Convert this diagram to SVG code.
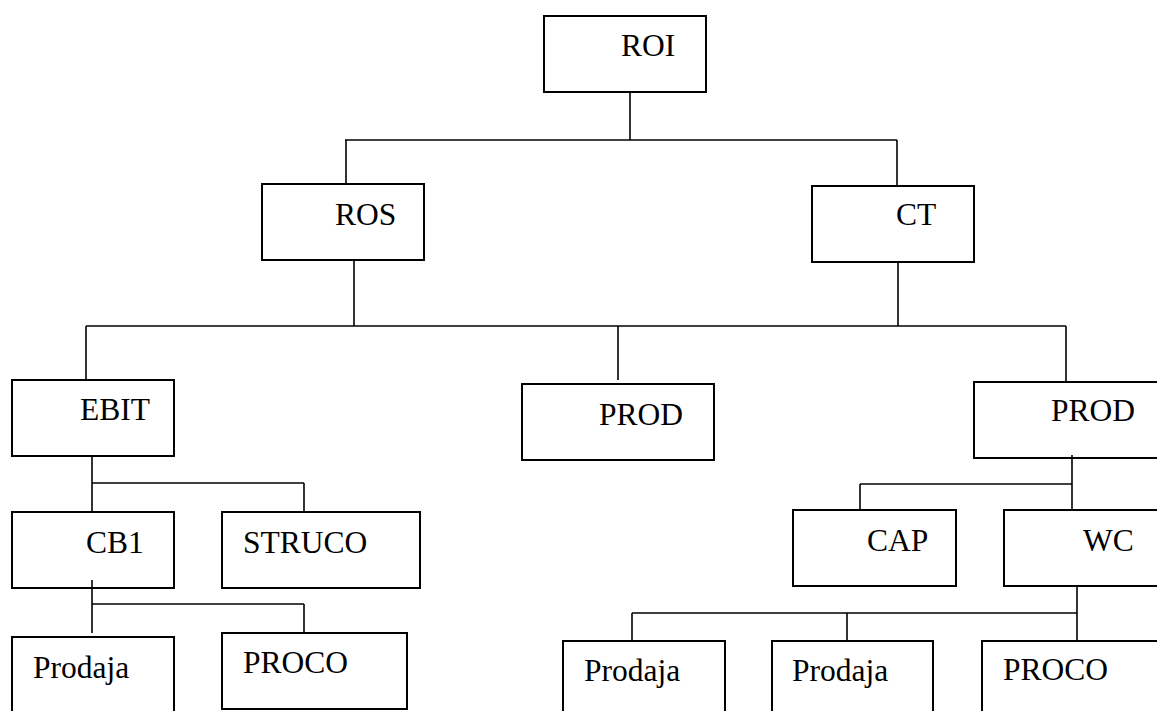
<svg xmlns="http://www.w3.org/2000/svg" width="1157" height="711" viewBox="0 0 1157 711">
<style>
.box{fill:#fff;stroke:#000;stroke-width:2}
.lbl{font-family:"Liberation Serif","Times New Roman",serif;font-size:31.5px;fill:#000}
.conn line{stroke:#000;stroke-width:1.6}
</style>
<rect width="1157" height="711" fill="#fff"/>
<g id="roi"><rect class="box" x="544" y="16" width="162" height="76"/><text class="lbl" x="621" y="56">ROI</text></g>
<g id="ros"><rect class="box" x="262" y="184" width="162" height="76"/><text class="lbl" x="335" y="225">ROS</text></g>
<g id="ct"><rect class="box" x="812" y="186" width="162" height="76"/><text class="lbl" x="896" y="225">CT</text></g>
<g id="ebit"><rect class="box" x="12" y="380" width="162" height="76"/><text class="lbl" x="80" y="420">EBIT</text></g>
<g id="prod-mid"><rect class="box" x="522" y="384" width="192" height="76"/><text class="lbl" x="599" y="425">PROD</text></g>
<g id="prod-right"><rect class="box" x="974" y="382" width="200" height="76"/><text class="lbl" x="1051" y="421">PROD</text></g>
<g id="cb1"><rect class="box" x="12" y="512" width="162" height="76"/><text class="lbl" x="86" y="553">CB1</text></g>
<g id="struco"><rect class="box" x="222" y="512" width="198" height="76"/><text class="lbl" x="243" y="553">STRUCO</text></g>
<g id="cap"><rect class="box" x="793" y="510" width="163" height="76"/><text class="lbl" x="867" y="551">CAP</text></g>
<g id="wc"><rect class="box" x="1004" y="510" width="170" height="76"/><text class="lbl" x="1083" y="551">WC</text></g>
<g id="prodaja-1"><rect class="box" x="12" y="637" width="162" height="90"/><text class="lbl" x="33" y="678">Prodaja</text></g>
<g id="proco-1"><rect class="box" x="222" y="633" width="185" height="76"/><text class="lbl" x="243" y="673">PROCO</text></g>
<g id="prodaja-2"><rect class="box" x="563" y="641" width="162" height="90"/><text class="lbl" x="584" y="681">Prodaja</text></g>
<g id="prodaja-3"><rect class="box" x="772" y="641" width="161" height="90"/><text class="lbl" x="792" y="681">Prodaja</text></g>
<g id="proco-2"><rect class="box" x="982" y="641" width="200" height="90"/><text class="lbl" x="1003" y="680">PROCO</text></g>
<g id="connectors" class="conn">
<line x1="630" y1="92" x2="630" y2="140"/>
<line x1="345" y1="140" x2="897" y2="140"/>
<line x1="346" y1="140" x2="346" y2="184"/>
<line x1="897" y1="140" x2="897" y2="186"/>
<line x1="354" y1="260" x2="354" y2="326"/>
<line x1="898" y1="262" x2="898" y2="326"/>
<line x1="86" y1="326" x2="1066" y2="326"/>
<line x1="86" y1="326" x2="86" y2="380"/>
<line x1="618" y1="326" x2="618" y2="380"/>
<line x1="1066" y1="326" x2="1066" y2="382"/>
<line x1="92" y1="457" x2="92" y2="512"/>
<line x1="92" y1="483" x2="304" y2="483"/>
<line x1="304" y1="483" x2="304" y2="512"/>
<line x1="92" y1="580" x2="92" y2="633"/>
<line x1="92" y1="604" x2="304" y2="604"/>
<line x1="304" y1="604" x2="304" y2="633"/>
<line x1="1072" y1="455" x2="1072" y2="510"/>
<line x1="860" y1="484" x2="1072" y2="484"/>
<line x1="860" y1="484" x2="860" y2="510"/>
<line x1="1077" y1="587" x2="1077" y2="641"/>
<line x1="632" y1="613" x2="1077" y2="613"/>
<line x1="632" y1="613" x2="632" y2="641"/>
<line x1="847" y1="613" x2="847" y2="641"/>
</g>
</svg>
